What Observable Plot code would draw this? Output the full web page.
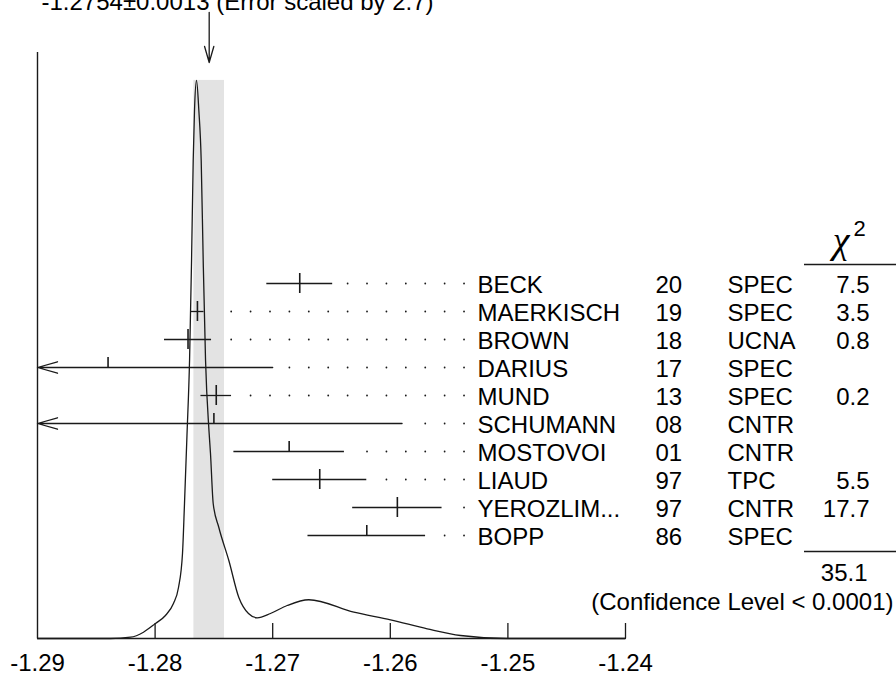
<!DOCTYPE html>
<html><head><meta charset="utf-8">
<script src="https://cdn.jsdelivr.net/npm/d3@7"></script>
<script src="https://cdn.jsdelivr.net/npm/@observablehq/plot@0.6"></script>
<style>
body{margin:0;background:#fff;}
#chart{position:relative;width:896px;height:675px;overflow:hidden;}
#chart svg{position:absolute;left:0;top:0;}
</style></head><body><div id="chart"></div>
<script>
// ---- data ----
const names  = ["BECK","MAERKISCH","BROWN","DARIUS","MUND","SCHUMANN","MOSTOVOI","LIAUD","YEROZLIM...","BOPP"];
const years  = ["20","19","18","17","13","08","01","97","97","86"];
const techs  = ["SPEC","SPEC","UCNA","SPEC","SPEC","CNTR","CNTR","TPC","CNTR","SPEC"];
const values = [-1.2677,-1.2764,-1.2772,-1.2840,-1.2748,-1.2750,-1.2686,-1.2660,-1.2594,-1.2620];
const errors = [0.0028,0.00056,0.0020,0.0140,0.0013,0.0160,0.0047,0.0040,0.0038,0.0050];
const chi2   = ["7.5","3.5","0.8","","0.2","","","5.5","17.7",""];
const totalChi2 = "35.1";
const confidence = "(Confidence Level < 0.0001)";
const average = -1.2754, averageError = 0.0013;
const title = "-1.2754\u00B10.0013 (Error scaled by 2.7)";
// ideogram curve (relative density, peak = 1)
const ideoX = [-1.2900,-1.28379,-1.28209,-1.28099,-1.27997,-1.27912,-1.27844,-1.27801,-1.27767,-1.27750,-1.27729,-1.27707,-1.27690,-1.27676,-1.27665,-1.27648,-1.27628,-1.27608,-1.27591,-1.27571,-1.27542,-1.27529,-1.27506,-1.27458,-1.27373,-1.27288,-1.27206,-1.27132,-1.27019,-1.26877,-1.26693,-1.26310,-1.25998,-1.25686,-1.25403,-1.25006,-1.2400];
const ideoY = [0,0,0.0023,0.0113,0.0269,0.0412,0.0627,0.0914,0.1523,0.2419,0.3638,0.4982,0.6774,0.8566,0.946,1.0,0.946,0.8566,0.6774,0.4982,0.3728,0.3315,0.2419,0.1989,0.1398,0.0735,0.0448,0.0371,0.0448,0.0591,0.0694,0.0471,0.0335,0.0174,0.0054,0,0];
const tickValues = [-1.29,-1.28,-1.27,-1.26,-1.25,-1.24];
const tickLabels = ["-1.29","-1.28","-1.27","-1.26","-1.25","-1.24"];
const xDomain = [-1.29,-1.24];

// ---- layout ----
const W = 896, H = 675;
const font = "'Liberation Sans', Arial, Helvetica, sans-serif";
const ink = "#1a1a1a";
const leaderEnd = -1.25373, leaderStep = 0.00165, leaderGap = 0.00085;

const ideo = ideoX.map((x,i)=>({x, y: ideoY[i]}));
const peak = d3.max(ideoY);

const plotA = Plot.plot({
  width: W, height: H, marginLeft: 37, marginRight: 271, marginTop: 52, marginBottom: 37,
  x: {domain: xDomain, axis: null},
  y: {domain: [0, 1.05], axis: null},
  style: {fontFamily: font, fontSize: "24px", background: "white", color: "black", overflow: "visible"},
  marks: [
    Plot.rect([average], {x1: d=>d-averageError, x2: d=>d+averageError, y1: 0, y2: peak, fill: "#e3e3e3"}),
    Plot.line(ideo, {x: "x", y: "y", curve: "monotone-x", stroke: ink, strokeWidth: 1.3}),
    Plot.ruleX([xDomain[0]], {stroke: ink, strokeWidth: 1.4}),
    Plot.ruleY([0], {stroke: ink, strokeWidth: 1.4}),
    Plot.ruleX(tickValues.slice(1), {x: d=>d, y1: 0, y2: 0, insetTop: -15, stroke: ink, strokeWidth: 1.3}),
    Plot.text(tickValues, {x: d=>d, y: 0, text: (d,i)=>tickLabels[i], dy: 25, fontSize: 24, lineAnchor: "middle"}),
    Plot.arrow([average], {x: d=>d, y1: 1.122, y2: 1.032, headAngle: 32, headLength: 24, stroke: ink, strokeWidth: 1.3}),
    Plot.text([title], {text: d=>d, frameAnchor: "top-left", dx: 4, dy: -50.5, textAnchor: "start", lineAnchor: "middle", fontSize: 24})
  ]
});

const rows = names.map((name,i)=>({name, year: years[i], tech: techs[i], value: values[i], error: errors[i], chi2: chi2[i], used: chi2[i] !== ""}));
rows.forEach(d=>{ d.lo = d.value - d.error; d.hi = d.value + d.error; d.clipped = d.lo < xDomain[0]; });
const dots = [];
rows.forEach(d=>{ for (let k = 0; leaderEnd - k*leaderStep > d.hi + leaderGap; k++) dots.push({name: d.name, x: leaderEnd - k*leaderStep}); });

const plotB = Plot.plot({
  width: W, height: H, marginLeft: 37, marginRight: 271, marginTop: 281.7, marginBottom: 138,
  x: {domain: xDomain, axis: null},
  y: {type: "point", domain: names, padding: 0, axis: null},
  style: {fontFamily: font, fontSize: "24px", background: "transparent", color: "black", overflow: "visible"},
  marks: [
    Plot.ruleY(rows.filter(d=>!d.clipped), {y: "name", x1: "lo", x2: "hi", stroke: ink, strokeWidth: 1.3}),
    Plot.arrow(rows.filter(d=>d.clipped), {x1: "hi", x2: xDomain[0], y1: "name", y2: "name", headAngle: 32, headLength: 24, stroke: ink, strokeWidth: 1.3}),
    Plot.ruleX(rows.filter(d=>d.used), {x: "value", y1: "name", y2: "name", insetTop: -10, insetBottom: -10, stroke: ink, strokeWidth: 1.6}),
    Plot.ruleX(rows.filter(d=>!d.used), {x: "value", y1: "name", y2: "name", insetTop: -10, insetBottom: 0, stroke: ink, strokeWidth: 1.6}),
    Plot.dot(dots, {x: "x", y: "name", r: 0.9, fill: ink, stroke: null}),
    Plot.text(rows, {y: "name", text: "name", frameAnchor: "right", dx: -148, dy: 2, textAnchor: "start", lineAnchor: "middle", fontSize: 24}),
    Plot.text(rows, {y: "name", text: "year", frameAnchor: "right", dx: 30, dy: 2, textAnchor: "start", lineAnchor: "middle", fontSize: 24}),
    Plot.text(rows, {y: "name", text: "tech", frameAnchor: "right", dx: 102, dy: 2, textAnchor: "start", lineAnchor: "middle", fontSize: 24}),
    Plot.text(rows, {y: "name", text: "chi2", frameAnchor: "right", dx: 244, dy: 2, textAnchor: "end", lineAnchor: "middle", fontSize: 24}),
    Plot.text(["\u03C7"], {text: d=>d, frameAnchor: "top-right", dx: 215.5, dy: -41, textAnchor: "middle", lineAnchor: "middle", fontSize: 38, fontFamily: "'Liberation Serif', serif", fontStyle: "italic"}),
    Plot.text(["2"], {text: d=>d, frameAnchor: "top-right", dx: 234, dy: -53, textAnchor: "middle", lineAnchor: "middle", fontSize: 22}),
    Plot.ruleY([names[0]], {y: d=>d, dy: -19, insetLeft: 767, insetRight: -271, stroke: ink, strokeWidth: 1.3}),
    Plot.ruleY([names[names.length-1]], {y: d=>d, dy: 16, insetLeft: 767, insetRight: -271, stroke: ink, strokeWidth: 1.3}),
    Plot.text([totalChi2], {text: d=>d, frameAnchor: "bottom-right", dx: 242, dy: 36, textAnchor: "end", lineAnchor: "middle", fontSize: 24}),
    Plot.text([confidence], {text: d=>d, frameAnchor: "bottom-right", dx: 268, dy: 65, textAnchor: "end", lineAnchor: "middle", fontSize: 24})
  ]
});

const chart = document.getElementById("chart");
chart.appendChild(plotA);
chart.appendChild(plotB);
</script>
</body></html>
